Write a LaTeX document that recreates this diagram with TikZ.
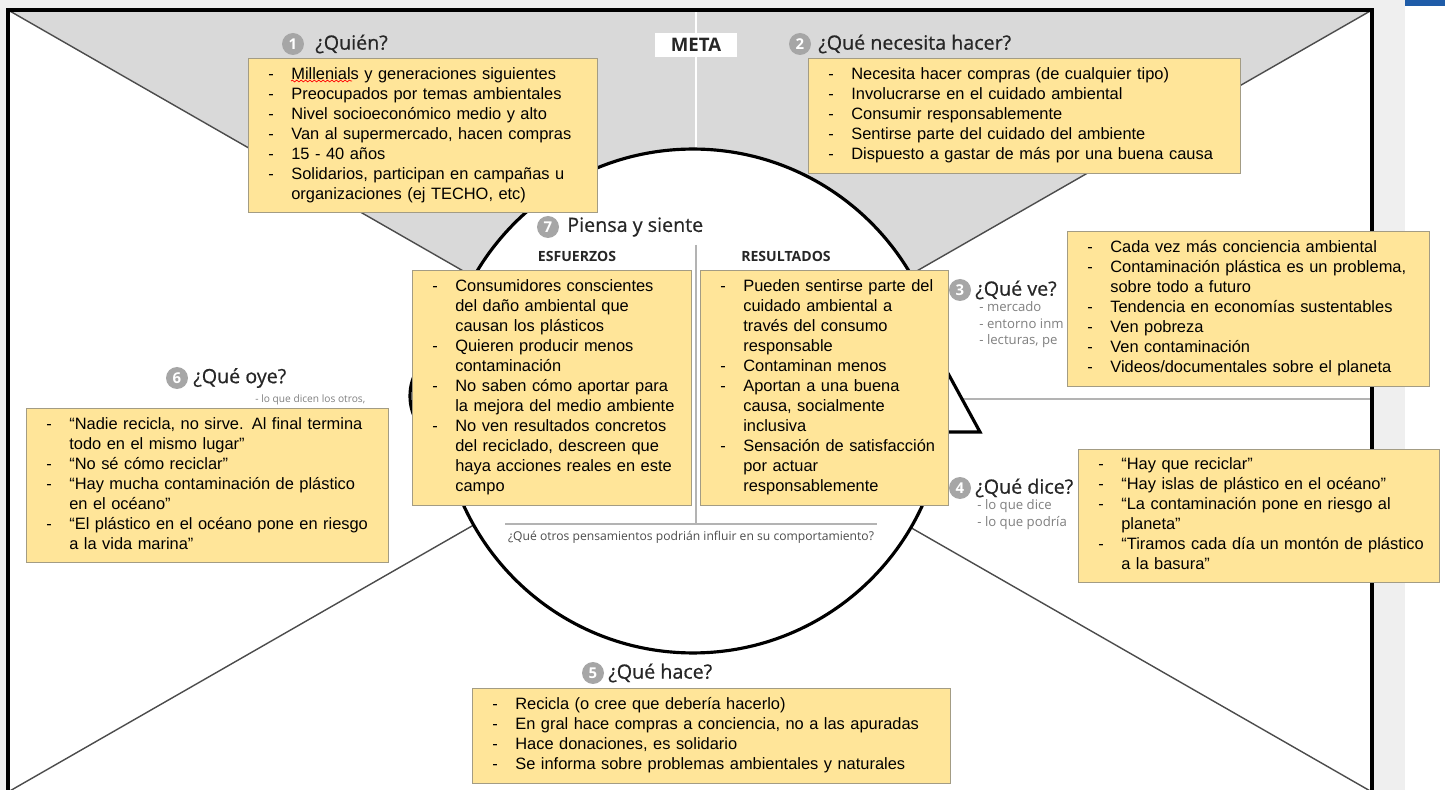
\documentclass[tikz,border=0pt]{standalone}
\usepackage{fontspec}
\setmainfont{Liberation Sans}
\newfontfamily\opensans{Open Sans}
\newfontfamily\opensanstit{Open Sans}[FakeBold=0.6]
\usetikzlibrary{decorations.pathmorphing}

\definecolor{notafondo}{HTML}{FFE599}
\definecolor{notaborde}{HTML}{A39C84}
\definecolor{gris}{HTML}{D9D9D9}
\definecolor{fondo}{HTML}{EFEFEF}
\definecolor{azul}{HTML}{1F5CA8}
\definecolor{numfondo}{HTML}{A6A6A6}
\definecolor{tinta}{HTML}{262626}
\definecolor{tenue}{HTML}{808080}
\definecolor{rayagris}{HTML}{B3B3B3}

\newcommand{\notafont}{\fontsize{9.35}{11.38}\selectfont}
\newcommand{\titfont}{\opensanstit\fontsize{11.2}{13}\selectfont}
\newcommand{\subfont}{\opensans\fontsize{7.5}{9}\selectfont}
\newenvironment{guiones}{\noindent\begin{tabular}{@{\hspace{0.4cm}}p{0.46cm}@{}l@{}}}{\end{tabular}}

\tikzset{
  nota/.style={draw=notaborde, fill=notafondo, anchor=north west, inner sep=0pt, align=left, font=\notafont, text=black},
  numero/.style={circle, fill=numfondo, text=white, inner sep=0pt, minimum size=0.44cm, font=\opensans\bfseries\fontsize{8.5}{9}\selectfont},
  titulo/.style={anchor=west, inner sep=0pt, font=\titfont, text=tinta},
  sub/.style={anchor=west, inner sep=0pt, font=\subfont, text=tenue},
  cabeza/.style={draw=black, fill=white, line width=1.8pt},
  diagonal/.style={draw=black!70, line width=0.8pt},
}

\begin{document}
\begin{tikzpicture}[x=0.02cm,y=-0.02cm]
\useasboundingbox (0,0) rectangle (1445,790);
\fill[fondo] (0,0) rectangle (1405,790);
\fill[white] (1405,0) rectangle (1445,790);
\fill[azul] (1405,0) rectangle (1445,6);

\coordinate (NO) at (8,10);
\coordinate (NE) at (1372,10);
\coordinate (SO) at (8,792);
\coordinate (SE) at (1372,792);
\coordinate (centro) at (690,401);
\coordinate (E) at (1372,399);
\coordinate (nariz) at (960,399);
\coordinate (metaarriba) at (696,10);
\coordinate (metaabajo) at (696,401);

\fill[white] (NO) rectangle (SE);
\fill[gris] (NO) -- (NE) -- (centro) -- cycle;
\foreach \esq in {NO,NE,SO,SE}
\draw[diagonal] (\esq) -- (centro);
\draw[rayagris, line width=1.2pt] (nariz) -- (E);
\draw[white, line width=1.2pt] (metaarriba) -- (metaabajo);
\draw[line width=1.8pt] (NO) rectangle (SE);

\draw[cabeza] (440,396) ellipse [x radius=0.6cm, y radius=0.8cm];
\draw[cabeza] (693,401) circle [radius=5.04cm];
\filldraw[cabeza, line join=miter] (938,355) -- (980,432) -- (940,432);

\draw[rayagris, line width=0.8pt] (696,245) -- (696,524);
\draw[rayagris, line width=0.8pt] (505,524) -- (877,524);

\node[fill=white, inner sep=0pt, minimum width=1.64cm, minimum height=0.48cm,
  font=\opensans\bfseries\fontsize{10.6}{12}\selectfont, text=tinta] (meta) at (696,45) {META};

\foreach \n/\x/\y in {1/293/44, 2/800/44, 3/960/290, 4/960/488, 5/593/673, 6/177/378, 7/548/227}
\node[numero] (n\n) at (\x,\y) {\n};

\node[titulo] (quientit) at (315,44) {¿Quién?};
\node[titulo] (necesitatit) at (818,44) {¿Qué necesita hacer?};
\node[titulo] (piensatit) at (567,227) {Piensa y siente};
\node[titulo] (vetit) at (975,290) {¿Qué ve?};
\node[titulo] (dicetit) at (975,488) {¿Qué dice?};
\node[titulo] (oyetit) at (193,378) {¿Qué oye?};
\node[titulo] (hacetit) at (608,673) {¿Qué hace?};

\node[sub] (ve1) at (979,307) {- mercado};
\node[sub] (ve2) at (979,324) {- entorno inm};
\node[sub] (ve3) at (979,341) {- lecturas, pe};
\node[sub] (dice1) at (977,506) {- lo que dice};
\node[sub] (dice2) at (977,523) {- lo que podría};
\node[sub, font=\opensans\fontsize{5.8}{7}\selectfont] (oye1) at (255,400) {- lo que dicen los otros,};

\node[font=\opensans\bfseries\fontsize{8}{9}\selectfont, text=tinta] (esfuerzos) at (577,256) {ESFUERZOS};
\node[font=\opensans\bfseries\fontsize{8}{9}\selectfont, text=tinta] (resultados) at (786,256) {RESULTADOS};
\node[font=\opensans\fontsize{6.9}{8}\selectfont, text=black!70] (otros) at (691,537)
  {¿Qué otros pensamientos podrián influir en su comportamiento?};

\node[nota, text width=6.98cm, minimum height=3.08cm] (quien) at (248,58) {\begin{guiones}
- & Millenials y generaciones siguientes\\
- & Preocupados por temas ambientales\\
- & Nivel socioeconómico medio y alto\\
- & Van al supermercado, hacen compras\\
- & 15 - 40 años\\
- & Solidarios, participan en campañas u\\
  & organizaciones (ej TECHO, etc)
\end{guiones}};
\draw[red, decorate, decoration={snake, amplitude=0.5pt, segment length=2.5pt}] (291,81) -- (352,81);

\node[nota, text width=8.64cm, minimum height=2.30cm] (necesita) at (808,58) {\begin{guiones}
- & Necesita hacer compras (de cualquier tipo)\\
- & Involucrarse en el cuidado ambiental\\
- & Consumir responsablemente\\
- & Sentirse parte del cuidado del ambiente\\
- & Dispuesto a gastar de más por una buena causa
\end{guiones}};

\node[nota, text width=7.24cm, minimum height=3.10cm] (ve) at (1067,231) {\begin{guiones}
- & Cada vez más conciencia ambiental\\
- & Contaminación plástica es un problema,\\
  & sobre todo a futuro\\
- & Tendencia en economías sustentables\\
- & Ven pobreza\\
- & Ven contaminación\\
- & Videos/documentales sobre el planeta
\end{guiones}};

\node[nota, text width=7.22cm, minimum height=2.66cm] (dice) at (1078,449) {\begin{guiones}
- & “Hay que reciclar”\\
- & “Hay islas de plástico en el océano”\\
- & “La contaminación pone en riesgo al\\
  & planeta”\\
- & “Tiramos cada día un montón de plástico\\
  & a la basura”
\end{guiones}};

\node[nota, text width=9.56cm, minimum height=1.90cm] (hace) at (472,688) {\begin{guiones}
- & Recicla (o cree que debería hacerlo)\\
- & En gral hace compras a conciencia, no a las apuradas\\
- & Hace donaciones, es solidario\\
- & Se informa sobre problemas ambientales y naturales
\end{guiones}};

\node[nota, text width=7.24cm, minimum height=3.08cm] (oye) at (26,408) {\begin{guiones}
- & “Nadie recicla, no sirve.  Al final termina\\
  & todo en el mismo lugar”\\
- & “No sé cómo reciclar”\\
- & “Hay mucha contaminación de plástico\\
  & en el océano”\\
- & “El plástico en el océano pone en riesgo\\
  & a la vida marina”
\end{guiones}};

\node[nota, text width=5.58cm, minimum height=4.70cm] (esf) at (412,270) {\begin{guiones}
- & Consumidores conscientes\\
  & del daño ambiental que\\
  & causan los plásticos\\
- & Quieren producir menos\\
  & contaminación\\
- & No saben cómo aportar para\\
  & la mejora del medio ambiente\\
- & No ven resultados concretos\\
  & del reciclado, descreen que\\
  & haya acciones reales en este\\
  & campo
\end{guiones}};

\node[nota, text width=4.96cm, minimum height=4.70cm] (res) at (700,270) {\begin{guiones}
- & Pueden sentirse parte del\\
  & cuidado ambiental a\\
  & través del consumo\\
  & responsable\\
- & Contaminan menos\\
- & Aportan a una buena\\
  & causa, socialmente\\
  & inclusiva\\
- & Sensación de satisfacción\\
  & por actuar\\
  & responsablemente
\end{guiones}};
\end{tikzpicture}
\end{document}
